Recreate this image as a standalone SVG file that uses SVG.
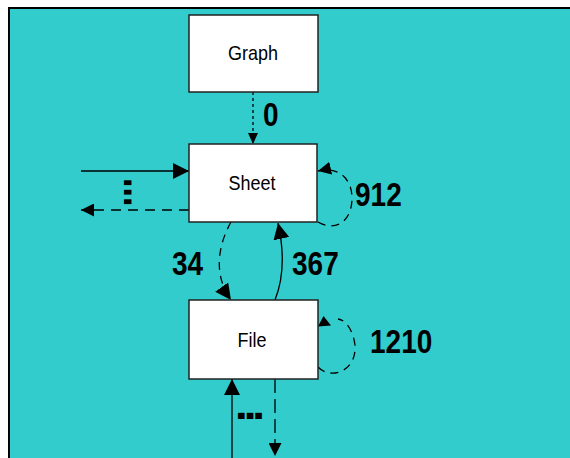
<svg xmlns="http://www.w3.org/2000/svg" width="570" height="458" viewBox="0 0 570 458">
<style>
.box{fill:#ffffff;stroke:#222222;stroke-width:1.5}
.lbl{font-family:"Liberation Sans",Arial,sans-serif;font-size:18px;fill:#000;text-anchor:middle}
.num{font-family:"Liberation Sans",Arial,sans-serif;font-size:28px;font-weight:bold;fill:#000}
.c{fill:none;stroke:#000;stroke-width:1.3}
.dot{stroke-dasharray:3,3}
.dash{stroke-dasharray:10,7}
.dash2{stroke-dasharray:8,6}
</style>
<defs>
<marker id="big" viewBox="0 0 16 16" refX="16" refY="8" markerWidth="16" markerHeight="16" orient="auto" markerUnits="userSpaceOnUse"><path d="M0,0 L16,8 L0,16 z" fill="#000"/></marker>
<marker id="mid" viewBox="0 0 13 13" refX="13" refY="6.5" markerWidth="13" markerHeight="13" orient="auto" markerUnits="userSpaceOnUse"><path d="M0,0 L13,6.5 L0,13 z" fill="#000"/></marker>
<marker id="sm" viewBox="0 0 11 10" refX="11" refY="5" markerWidth="11" markerHeight="10" orient="auto" markerUnits="userSpaceOnUse"><path d="M0,0 L11,5 L0,10 z" fill="#000"/></marker>
</defs>
<rect x="0" y="0" width="570" height="458" fill="#ffffff"/>
<rect x="9" y="8" width="570" height="460" fill="#33CCCC" stroke="#000" stroke-width="2"/>
<g id="connectors">
<path class="c dot" d="M253,92 L253,144" marker-end="url(#sm)"/>
<path class="c" d="M81,171 L189,171" marker-end="url(#big)"/>
<path class="c dash" d="M189,210 L81,210" marker-end="url(#mid)"/>
<path class="c dash2" d="M231,222 C218,245 213,275 231,300" marker-end="url(#big)"/>
<path class="c" d="M275,300 C283,280 285,255 278,223" marker-end="url(#big)"/>
<path class="c dash2" d="M318,222 C335,232 352,222 352,198 C352,180 340,166 318,171" marker-end="url(#mid)"/>
<path class="c dash2" d="M318,367 C330,380 357,372 355,345 C353,330 346,320 338,319"/>
<path d="M323.5,316 L318,326.5 L331,325.5 z" fill="#000"/>
<path class="c" d="M232,458 L232,379" marker-end="url(#big)"/>
<path class="c" style="stroke-dasharray:14,6" d="M275,379 L275,456" marker-end="url(#mid)"/>
<text class="num" transform="translate(263,126) scale(1,1.18)">0</text>
<text class="num" transform="translate(355,206) scale(1,1.18)">912</text>
<text class="num" transform="translate(172,275) scale(1,1.18)">34</text>
<text class="num" transform="translate(292,275) scale(1,1.18)">367</text>
<text class="num" transform="translate(370,353) scale(1,1.18)">1210</text>
<text class="num" style="font-size:34px" transform="translate(124,178) rotate(90) scale(1,1.45)">...</text>
<text class="num" style="font-size:26px" transform="translate(237,429) scale(1,2)">---</text>
</g>
<g id="graph"><rect class="box" x="189" y="15" width="129" height="77"/><text class="lbl" transform="translate(253,60) scale(1,1.15)">Graph</text></g>
<g id="sheet"><rect class="box" x="189" y="144" width="128" height="78"/><text class="lbl" transform="translate(252,190) scale(1,1.15)">Sheet</text></g>
<g id="file"><rect class="box" x="189" y="300" width="129" height="79"/><text class="lbl" transform="translate(252,347) scale(1,1.15)">File</text></g>
</svg>
